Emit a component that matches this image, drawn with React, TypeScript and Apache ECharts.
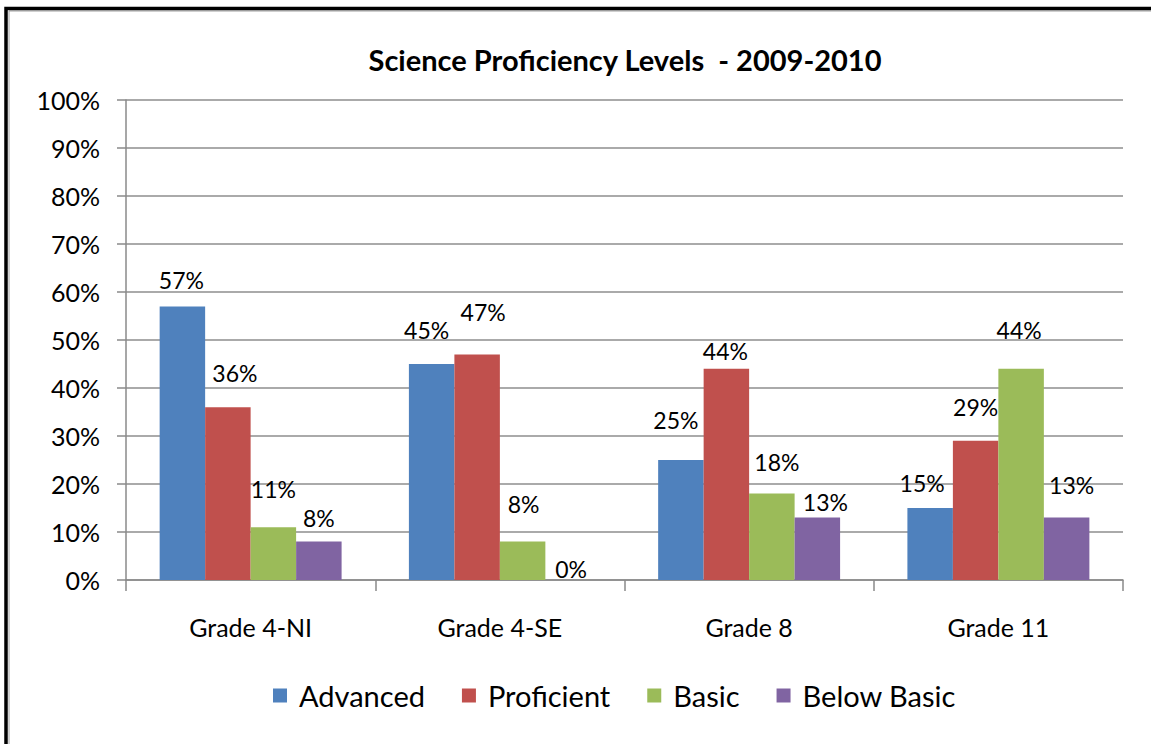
import React, { useEffect, useRef } from "react";
import * as echarts from "echarts";

const categories = ["Grade 4-NI", "Grade 4-SE", "Grade 8", "Grade 11"];
const seriesNames = ["Advanced", "Proficient", "Basic", "Below Basic"];
const advanced = [57, 45, 25, 15];
const proficient = [36, 47, 44, 29];
const basic = [11, 8, 18, 44];
const belowBasic = [8, 0, 13, 13];
const yTicks = [0, 10, 20, 30, 40, 50, 60, 70, 80, 90, 100];

const colors = ["#4F81BD", "#C0504D", "#9BBB59", "#8064A2"];
// label offsets (style only): [dx, dy] per series per category
const labelOffsets = [
  [[-1, -26], [-5, -34], [-5, -40], [-8, -25]],
  [[7, -34], [6, -42], [-1, -18], [0, -34]],
  [[0, -38], [1, -38], [5, -32], [-2, -39]],
  [[0, -24], [3, -11], [8, -16], [5, -33]],
];

const FONT = "Lato";

export default function App() {
  const ref = useRef<HTMLDivElement>(null);
  useEffect(() => {
    if (!ref.current) return;
    const chart = echarts.init(ref.current, undefined, { renderer: "svg" });
    const values = [advanced, proficient, basic, belowBasic];
    chart.setOption({
      animation: false,
      backgroundColor: "#ffffff",
      textStyle: { fontFamily: FONT },
      title: {
        text: "Science Proficiency Levels  - 2009-2010",
        left: 625,
        top: 45,
        textAlign: "center",
        padding: 0,
        textStyle: { fontFamily: FONT, fontWeight: "bold", fontSize: 29, color: "#000" },
      },
      legend: {
        left: 273,
        top: 681,
        itemWidth: 14,
        itemHeight: 14,
        itemGap: 37,
        padding: 0,
        icon: "rect",
        textStyle: { fontFamily: FONT, fontSize: 29, color: "#000", padding: [0, 0, 0, 7] },
        data: seriesNames,
      },
      grid: { left: 126, right: 28, top: 100, bottom: 164, containLabel: false, outerBoundsMode: "none" },
      xAxis: {
        type: "category",
        data: categories,
        axisLine: { lineStyle: { color: "#8a8a8a", width: 1.5 } },
        axisTick: { show: true, length: 11, alignWithLabel: false, lineStyle: { color: "#8a8a8a", width: 1.5 } },
        axisLabel: { fontFamily: FONT, fontSize: 25, color: "#000", margin: 34, interval: 0 },
      },
      yAxis: {
        type: "value",
        min: yTicks[0],
        max: yTicks[yTicks.length - 1],
        interval: 10,
        axisLine: { show: true, lineStyle: { color: "#8a8a8a", width: 1.5 } },
        axisTick: { show: true, length: 9, lineStyle: { color: "#8a8a8a", width: 1.5 } },
        axisLabel: { fontFamily: FONT, fontSize: 25, color: "#000", margin: 26, formatter: "{value}%" },
        splitLine: { show: true, lineStyle: { color: "#8e8e8e", width: 1.5 } },
      },
      series: values.map((vals, s) => ({
        name: seriesNames[s],
        type: "bar",
        barGap: "0%",
        barCategoryGap: "27%",
        itemStyle: { color: colors[s] },
        label: {
          show: true,
          position: "top",
          distance: 0,
          verticalAlign: "middle",
          formatter: "{c}%",
          fontFamily: FONT,
          fontSize: 23,
          color: "#000",
        },
        data: vals.map((v, i) => ({ value: v, label: { offset: labelOffsets[s][i] } })),
      })),
      graphic: [
        { type: "rect", shape: { x: 9, y: 11, width: 1300, height: 900 }, style: { fill: "none", stroke: "#a0a0a0", lineWidth: 1 }, silent: true },
        { type: "rect", shape: { x: 6, y: 8.5, width: 1300, height: 900 }, style: { fill: "none", stroke: "#000", lineWidth: 3.5 }, silent: true },
      ],
    });
    return () => chart.dispose();
  }, []);
  return <div ref={ref} style={{ position: "fixed", left: 0, top: 0, width: 1151, height: 744 }} />;
}
